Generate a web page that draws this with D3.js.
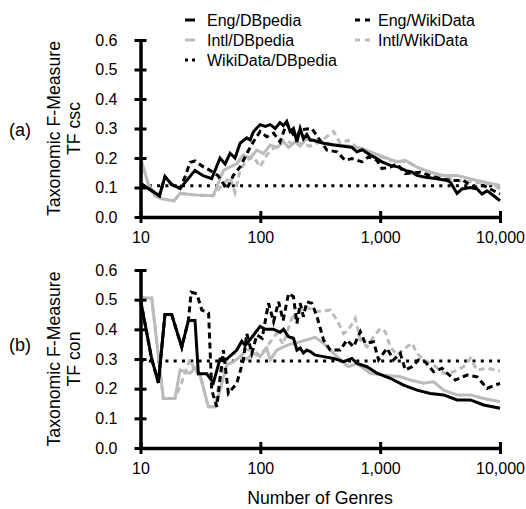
<!doctype html>
<html>
<head>
<meta charset='utf-8'>
<style>
body { margin: 0; background: #fff; }
svg { font-family: 'Liberation Sans', Arial, Helvetica, sans-serif; }
</style>
</head>
<body>
<div id='chart'></div>
<script src='https://cdn.jsdelivr.net/npm/d3@7/dist/d3.min.js'></script>
<script>

const xTicks = [10, 100, 1000, 10000];
const yTicks = [0, 0.1, 0.2, 0.3, 0.4, 0.5, 0.6];

// (a) TF csc  -- [number of genres, value]
const engDbpA = [[10,0.114],[14.4,0.072],[16,0.137],[18.2,0.11],[21.4,0.097],[28.5,0.158],[33.3,0.14],[39.3,0.13],[46.1,0.20],[50.8,0.18],[55.9,0.216],[61.5,0.20],[67.8,0.25],[77.1,0.268],[82.2,0.261],[87.6,0.289],[93.5,0.302],[99.6,0.313],[110,0.307],[121,0.313],[133,0.30],[146,0.32],[156,0.31],[166,0.324],[177,0.29],[189,0.30],[202,0.255],[215,0.30],[229,0.265],[244,0.28],[261,0.26],[276,0.26],[337,0.25],[408,0.244],[495,0.24],[581,0.236],[640,0.221],[708,0.228],[827,0.21],[940,0.198],[1035,0.187],[1214,0.175],[1425,0.169],[1622,0.158],[1845,0.152],[2028,0.141],[2382,0.135],[2985,0.13],[3615,0.124],[3851,0.118],[4385,0.08],[4820,0.095],[5657,0.10],[6440,0.095],[7080,0.078],[7800,0.089],[8860,0.072],[10000,0.055]];
const intlDbpA = [[10,0.20],[11.6,0.113],[13.2,0.072],[15,0.062],[17,0.058],[19,0.055],[21.4,0.08],[28,0.075],[40.4,0.072],[49.2,0.158],[55.9,0.17],[63.6,0.18],[71.8,0.21],[82.2,0.20],[93.5,0.227],[106,0.215],[121,0.244],[137,0.235],[156,0.255],[172,0.236],[195,0.255],[215,0.24],[244,0.267],[337,0.25],[563,0.24],[708,0.232],[827,0.221],[1067,0.204],[1381,0.187],[1622,0.192],[2028,0.169],[2621,0.152],[3388,0.141],[4385,0.141],[6440,0.124],[10000,0.107]];
const engWdA = [[10,0.114],[14.4,0.072],[16,0.137],[18.2,0.11],[21.4,0.097],[23.5,0.135],[25.9,0.185],[28.5,0.19],[33.5,0.17],[38.1,0.158],[44.4,0.14],[52.5,0.095],[59.6,0.141],[67.8,0.17],[77.1,0.215],[87.6,0.255],[99.6,0.29],[113,0.272],[129,0.284],[146,0.255],[166,0.318],[189,0.278],[202,0.272],[215,0.296],[269,0.30],[306,0.267],[360,0.227],[436,0.221],[511,0.192],[581,0.198],[705,0.187],[800,0.204],[940,0.192],[1035,0.164],[1214,0.169],[1381,0.18],[1622,0.147],[2163,0.152],[2621,0.14],[3177,0.13],[3851,0.124],[4945,0.124],[6000,0.10],[7265,0.107],[10000,0.078]];
const intlWdA = [[10,0.20],[11.6,0.113],[13.2,0.072],[15,0.062],[17,0.058],[19,0.055],[21.4,0.08],[28,0.075],[40.4,0.072],[46.1,0.10],[55.9,0.135],[61.5,0.083],[67.8,0.16],[77.1,0.192],[87.6,0.204],[99.6,0.17],[113,0.21],[129,0.233],[146,0.255],[166,0.261],[187,0.244],[215,0.25],[261,0.24],[316,0.255],[408,0.29],[464,0.25],[541,0.26],[640,0.235],[875,0.216],[1214,0.192],[1674,0.187],[2291,0.158],[3177,0.141],[4385,0.124],[6000,0.118],[8311,0.113],[10000,0.095]];
const wikiDbpA = [[10,0.106],[10000,0.106]];

// (b) TF con
const engDbpB = [[10,0.50],[12.4,0.30],[14.1,0.22],[16,0.45],[18.2,0.45],[22.1,0.34],[25.1,0.43],[28.5,0.43],[30.4,0.25],[35.7,0.25],[40.6,0.22],[46.1,0.30],[52.5,0.30],[63.6,0.33],[70,0.36],[74.7,0.345],[87.6,0.38],[99.6,0.41],[110,0.40],[129,0.40],[146,0.39],[156,0.40],[172,0.375],[189,0.37],[202,0.33],[215,0.337],[229,0.32],[244,0.33],[261,0.325],[287,0.313],[337,0.308],[408,0.302],[495,0.291],[581,0.302],[640,0.285],[776,0.274],[940,0.252],[1214,0.235],[1567,0.212],[2028,0.195],[2621,0.184],[3388,0.179],[4385,0.162],[5657,0.162],[7311,0.145],[10000,0.134]];
const intlDbpB = [[10,0.506],[12.4,0.506],[15.5,0.167],[19.4,0.167],[21.4,0.263],[25.9,0.252],[28.5,0.27],[31.4,0.246],[36.8,0.139],[41.9,0.139],[46.1,0.195],[52.5,0.28],[59.3,0.29],[67.8,0.308],[77.1,0.30],[87.6,0.319],[99.6,0.308],[113,0.337],[121,0.297],[137,0.33],[156,0.341],[177,0.35],[215,0.358],[287,0.373],[337,0.353],[408,0.319],[544,0.274],[640,0.285],[827,0.252],[1067,0.246],[1472,0.24],[1785,0.229],[2305,0.218],[2793,0.223],[3388,0.195],[4385,0.179],[5657,0.179],[7311,0.167],[10000,0.156]];
const engWdB = [[10,0.50],[12.4,0.30],[14.1,0.22],[16,0.45],[18.2,0.45],[22.1,0.34],[25.1,0.43],[26.5,0.525],[29.5,0.52],[32.5,0.465],[37,0.455],[39.3,0.195],[43.3,0.139],[49.2,0.33],[54.1,0.184],[63.6,0.218],[72.2,0.297],[77.1,0.386],[84.9,0.319],[93.5,0.381],[103.5,0.37],[117,0.488],[129,0.426],[142,0.493],[155,0.43],[172,0.521],[189,0.51],[202,0.42],[215,0.488],[229,0.443],[244,0.493],[269,0.488],[297,0.443],[337,0.364],[383,0.33],[464,0.33],[528,0.364],[600,0.341],[682,0.392],[751,0.353],[881,0.358],[970,0.297],[1140,0.336],[1295,0.297],[1472,0.319],[1622,0.263],[1845,0.274],[2095,0.297],[2382,0.29],[2793,0.257],[3283,0.269],[3615,0.252],[4240,0.229],[5305,0.246],[6440,0.24],[7800,0.201],[10000,0.218]];
const intlWdB = [[10,0.506],[12.4,0.506],[15.5,0.167],[19.4,0.167],[22,0.22],[25.9,0.30],[28.5,0.26],[31.4,0.246],[36.8,0.139],[41.9,0.139],[46.1,0.24],[52.5,0.297],[59.3,0.32],[67.8,0.308],[77.1,0.33],[87.6,0.33],[99.6,0.31],[113,0.341],[137,0.386],[155,0.35],[189,0.454],[202,0.42],[215,0.465],[237,0.476],[297,0.46],[383,0.465],[436,0.431],[495,0.386],[544,0.398],[620,0.437],[682,0.364],[776,0.341],[881,0.375],[1002,0.403],[1104,0.392],[1214,0.341],[1381,0.313],[1674,0.341],[1845,0.353],[2028,0.319],[2305,0.297],[2793,0.28],[3388,0.252],[4104,0.257],[4975,0.274],[5657,0.302],[6440,0.263],[7800,0.269],[10000,0.26]];
const wikiDbpB = [[10,0.293],[10000,0.293]];

const styles = {
  'Eng/DBpedia':      {color: '#000', dash: null,    legendDash: null},
  'Intl/DBpedia':     {color: '#bbb', dash: null,    legendDash: null},
  'WikiData/DBpedia': {color: '#000', dash: '3,5.3', legendDash: '3,4'},
  'Eng/WikiData':     {color: '#000', dash: '6,4',   legendDash: '5,5'},
  'Intl/WikiData':    {color: '#bbb', dash: '6,4',   legendDash: '5,5'}
};

const W = 526, H = 509;
const svg = d3.select('#chart').append('svg')
  .attr('width', W)
  .attr('height', H);

const x = d3.scaleLog().domain([10, 10000]).range([140.5, 500]);

const panels = [
  {tag: '(a)', title: 'TF csc', top: 40, bottom: 217, tagY: 136,
   data: {'WikiData/DBpedia': wikiDbpA, 'Intl/WikiData': intlWdA, 'Intl/DBpedia': intlDbpA, 'Eng/WikiData': engWdA, 'Eng/DBpedia': engDbpA}},
  {tag: '(b)', title: 'TF con', top: 270, bottom: 448, tagY: 351,
   data: {'WikiData/DBpedia': wikiDbpB, 'Intl/WikiData': intlWdB, 'Intl/DBpedia': intlDbpB, 'Eng/WikiData': engWdB, 'Eng/DBpedia': engDbpB}}
];

panels.forEach(function(p){
  const y = d3.scaleLinear().domain([0, 0.6]).range([p.bottom, p.top]);
  const g = svg.append('g');

  const line = d3.line()
    .x(d => x(d[0]))
    .y(d => y(d[1]));

  // draw order: dotted, gray, black
  Object.keys(p.data).forEach(function(k){
    g.append('path')
      .attr('d', line(p.data[k]))
      .attr('fill', 'none')
      .attr('stroke', styles[k].color)
      .attr('stroke-width', 3)
      .attr('stroke-dasharray', styles[k].dash);
  });

  // y axis
  const yAxis = g.append('g')
    .attr('transform', `translate(${x(10)},0)`)
    .call(d3.axisLeft(y).tickValues(yTicks).tickFormat(d3.format('.1f')).tickSize(6).tickSizeOuter(0).tickPadding(17));
  yAxis.selectAll('.tick line').attr('x1', 6).attr('stroke-width', 3);
  yAxis.select('.domain').attr('stroke-width', 3.5);
  yAxis.selectAll('text').attr('font-size', 16).attr('fill', '#000').attr('font-family', null);

  // x axis
  const xAxis = g.append('g')
    .attr('transform', `translate(0,${p.bottom})`)
    .call(d3.axisBottom(x).tickValues(xTicks).tickFormat(d3.format(',')).tickSize(6).tickSizeOuter(0).tickPadding(9));
  xAxis.selectAll('.tick line').attr('y1', -6).attr('stroke-width', 3);
  xAxis.select('.domain').attr('stroke-width', 3.5);
  xAxis.selectAll('text').attr('font-size', 16).attr('fill', '#000').attr('font-family', null);

  const cy = (p.top + p.bottom) / 2;
  g.append('text')
    .attr('transform', `translate(60,${cy}) rotate(-90)`)
    .attr('text-anchor', 'middle')
    .attr('font-size', 17.7)
    .text('Taxonomic F-Measure');
  g.append('text')
    .attr('transform', `translate(80,${cy}) rotate(-90)`)
    .attr('text-anchor', 'middle')
    .attr('font-size', 17.7)
    .text(p.title);
  g.append('text')
    .attr('x', 20)
    .attr('y', p.tagY)
    .attr('text-anchor', 'middle')
    .attr('font-size', 18)
    .text(p.tag);
});

svg.append('text')
  .attr('x', 320)
  .attr('y', 504)
  .attr('text-anchor', 'middle')
  .attr('font-size', 17.7)
  .text('Number of Genres');

// legend
const legendPos = [
  {name: 'Eng/DBpedia', x: 185, y: 20, len: 10},
  {name: 'Intl/DBpedia', x: 185, y: 40, len: 10},
  {name: 'WikiData/DBpedia', x: 185, y: 60, len: 10},
  {name: 'Eng/WikiData', x: 355, y: 20, len: 15},
  {name: 'Intl/WikiData', x: 355, y: 40, len: 15}
];
const legend = svg.append('g');
legendPos.forEach(function(l){
  legend.append('line')
    .attr('x1', l.x).attr('x2', l.x + l.len)
    .attr('y1', l.y).attr('y2', l.y)
    .attr('stroke', styles[l.name].color)
    .attr('stroke-width', 3)
    .attr('stroke-dasharray', styles[l.name].legendDash);
  legend.append('text')
    .attr('x', l.x + (l.len === 10 ? 22 : 23))
    .attr('y', l.y + 6)
    .attr('font-size', 16)
    .text(l.name);
});

</script>
</body>
</html>
